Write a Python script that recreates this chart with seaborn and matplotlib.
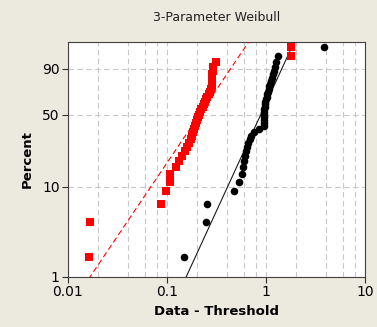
import numpy as np
import pandas as pd
import matplotlib
matplotlib.use("Agg")
import matplotlib.pyplot as plt
import seaborn as sns
from matplotlib.ticker import FixedLocator, FixedFormatter, LogLocator, NullFormatter, NullLocator

# Observed values (data minus threshold) for the two samples
sample_red = [0.0164, 0.0165, 0.0876, 0.097, 0.107, 0.108, 0.124, 0.132, 0.141, 0.152,
              0.159, 0.167, 0.175, 0.179, 0.183, 0.187, 0.192, 0.196, 0.201, 0.206,
              0.210, 0.215, 0.220, 0.231, 0.236, 0.242, 0.248, 0.253, 0.265, 0.271,
              0.278, 0.285, 0.285, 0.286, 0.287, 0.288, 0.289, 0.290, 0.313, 1.79, 1.80]
sample_black = [0.150, 0.250, 0.252, 0.47, 0.53, 0.57, 0.586, 0.600, 0.614, 0.628,
                0.649, 0.664, 0.687, 0.703, 0.756, 0.850, 0.954, 0.977, 0.965, 0.965,
                0.954, 0.954, 0.954, 0.965, 0.977, 0.988, 1.00, 1.012, 1.024, 1.047,
                1.072, 1.084, 1.11, 1.135, 1.148, 1.175, 1.20, 1.23, 1.27, 1.33, 3.85]

# Fitted Weibull parameters (shape, scale)
fit_red = (1.66, 0.266)
fit_black = (2.44, 1.028)

percent_ticks = [1, 10, 50, 90]
x_ticks = [0.01, 0.1, 1, 10]
x_tick_labels = ["0.01", "0.1", "1", "10"]


def median_ranks(values):
    n = len(values)
    i = np.arange(1, n + 1)
    return np.sort(values), 100 * (i - 0.3) / (n + 0.4)


def weibull_fwd(p):
    p = np.clip(np.asarray(p, dtype=float), 1e-9, 100 - 1e-9)
    return np.log(-np.log(1 - p / 100))


def weibull_inv(y):
    return 100 * (1 - np.exp(-np.exp(np.asarray(y, dtype=float))))


def fit_line(shape, scale):
    p = np.linspace(0.3, 99.7, 300)
    x = scale * (-np.log(1 - p / 100)) ** (1 / shape)
    return pd.DataFrame({"x": x, "p": p})


bg = "#ECE9DF"
fig = plt.figure(figsize=(3.77, 3.27), dpi=100, facecolor=bg)
ax = fig.add_axes([68 / 377, 1 - 277 / 327, (365 - 68) / 377, (277 - 42) / 327])
ax.set_facecolor("white")

ax.set_xscale("log")
ax.set_yscale("function", functions=(weibull_fwd, weibull_inv))

line_red = fit_line(*fit_red)
line_black = fit_line(*fit_black)
sns.lineplot(data=line_black, x="x", y="p", ax=ax, color="#1a1a1a", lw=0.8,
             estimator=None, sort=False, zorder=3)
sns.lineplot(data=line_red, x="x", y="p", ax=ax, color="#ff0000", lw=0.8,
             linestyle=(0, (5, 3)), estimator=None, sort=False, zorder=3)

xb, pb = median_ranks(sample_black)
xr, pr = median_ranks(sample_red)
sns.scatterplot(x=xb, y=pb, ax=ax, marker="o", s=30, color="black", linewidth=0, zorder=4)
sns.scatterplot(x=xr, y=pr, ax=ax, marker="s", s=30, color="#ff0000", linewidth=0, zorder=5)

ax.set_xlim(0.01, 10)
ax.set_ylim(1, 99)

ax.xaxis.set_major_locator(FixedLocator(x_ticks))
ax.xaxis.set_major_formatter(FixedFormatter(x_tick_labels))
ax.xaxis.set_minor_locator(LogLocator(base=10, subs=[2, 4, 6, 8]))
ax.xaxis.set_minor_formatter(NullFormatter())
ax.yaxis.set_major_locator(FixedLocator(percent_ticks))
ax.yaxis.set_major_formatter(FixedFormatter([str(t) for t in percent_ticks]))
ax.yaxis.set_minor_locator(NullLocator())

grid_kw = dict(color="#c8c8c8", linestyle=(0, (5, 3)), linewidth=0.8)
ax.grid(which="major", axis="both", **grid_kw)
ax.grid(which="minor", axis="x", **grid_kw)
ax.set_axisbelow(True)

ax.tick_params(which="major", length=4, width=0.8, color="#303030",
               labelsize=10, labelcolor="black", pad=2)
ax.tick_params(which="minor", length=0)
for s in ax.spines.values():
    s.set_color("#404040")
    s.set_linewidth(0.8)

ax.set_xlabel("Data - Threshold", fontsize=9.5, fontweight="bold", labelpad=4)
ax.set_ylabel("Percent", fontsize=9.5, fontweight="bold", labelpad=6)
ax.set_title("3-Parameter Weibull", fontsize=9, color="#202020", pad=15)

fig.savefig("out.png", dpi=100, facecolor=bg)
